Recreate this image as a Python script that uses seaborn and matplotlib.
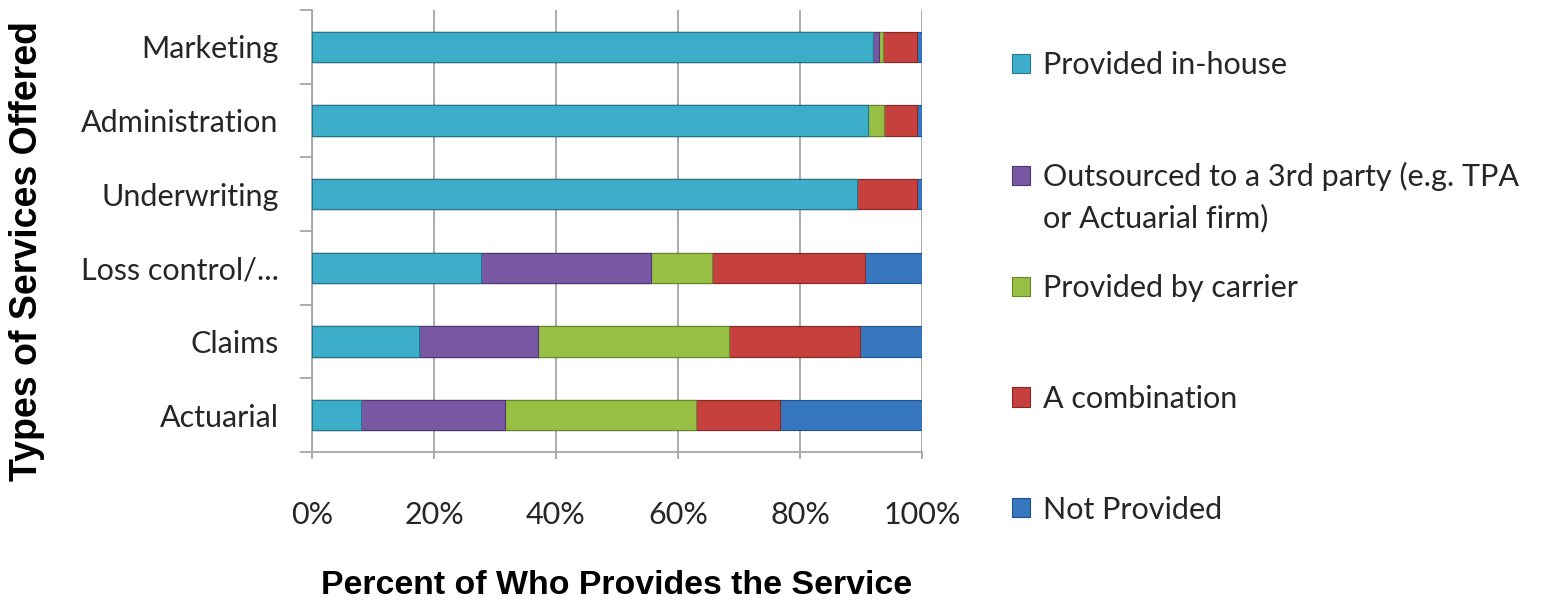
import matplotlib
matplotlib.use("Agg")
import matplotlib.pyplot as plt
import seaborn as sns
import numpy as np
import pandas as pd
from matplotlib.patches import Patch
from matplotlib.ticker import FixedLocator, FuncFormatter

categories = ["Marketing", "Administration", "Underwriting", "Loss control/...", "Claims", "Actuarial"]
series_names = ["Provided in-house", "Outsourced to a 3rd party (e.g. TPA", "Provided by carrier",
                "A combination", "Not Provided"]
in_house = [92.0, 91.2, 89.4, 27.7, 17.5, 8.0]
outsourced = [0.9, 0.0, 0.0, 27.9, 19.6, 23.7]
carrier = [0.7, 2.6, 0.0, 9.9, 31.3, 31.3]
combination = [5.5, 5.3, 9.7, 25.2, 21.4, 13.7]
not_provided = [0.9, 0.9, 0.9, 9.3, 10.2, 23.3]
x_ticks = [0, 20, 40, 60, 80, 100]

colors = ["#3DAECA", "#7858A3", "#96BF44", "#C6403D", "#3777C0"]
edge_colors = ["#23788F", "#4F3574", "#68882A", "#8A2826", "#22528A"]

sns.set_theme(style="white")
plt.rcParams["font.family"] = ["Lato", "DejaVu Sans"]

fig = plt.figure(figsize=(15.43, 6.0), dpi=100)
ax = fig.add_axes([312 / 1543, 1 - 452 / 600, 610 / 1543, 442 / 600])

values = [in_house, outsourced, carrier, combination, not_provided]
cum = np.cumsum(np.array(values), axis=0)
df = pd.DataFrame({"category": categories})
for i in range(len(values) - 1, -1, -1):
    df["v"] = cum[i]
    sns.barplot(data=df, x="v", y="category", order=categories, orient="h", ax=ax,
                color=colors[i], width=0.41, edgecolor=edge_colors[i], linewidth=0.8,
                saturation=1, zorder=3)

ax.set_xlim(0, 100)
ax.set_ylim(5.5, -0.5)
ax.xaxis.set_major_locator(FixedLocator(x_ticks))
ax.xaxis.set_major_formatter(FuncFormatter(lambda v, p: f"{int(v)}%"))
ax.grid(axis="x", color="#a6a6a6", linewidth=1.3, zorder=0)
ax.grid(axis="y", visible=False)
ax.set_axisbelow(True)

for s in ["top", "right"]:
    ax.spines[s].set_visible(False)
for s in ["left", "bottom"]:
    ax.spines[s].set_visible(True)
    ax.spines[s].set_color("#a6a6a6")
    ax.spines[s].set_linewidth(1.3)

ax.yaxis.set_minor_locator(FixedLocator(np.arange(-0.5, 6.0, 1.0)))
ax.tick_params(axis="y", which="major", length=0, pad=24, labelsize=22, labelcolor="#262626")
ax.tick_params(axis="y", which="minor", length=8.5, width=1.3, color="#a6a6a6", left=True)
ax.tick_params(axis="x", which="major", length=5, width=1.3, color="#a6a6a6", bottom=True,
               pad=30, labelsize=22, labelcolor="#262626")

ax.set_xlabel("Percent of Who Provides the Service", fontsize=24.4, fontweight="bold",
              family=["Liberation Sans"], color="black")
ax.set_ylabel("Types of Services Offered", fontsize=27, fontweight="bold",
              family=["Liberation Sans"], color="black")
ax.xaxis.set_label_coords(0.5, -(570 - 452) / 442)
ax.yaxis.set_label_coords((45 - 312) / 610, 1 - (251 - 10) / 442)

handles = [Patch(facecolor=colors[i], edgecolor=edge_colors[i], linewidth=0.8) for i in range(5)]
leg = fig.legend(handles, series_names, loc="upper left",
                 bbox_to_anchor=(997 / 1543, 1 - 36 / 600), frameon=False,
                 fontsize=22, labelspacing=2.71, handlelength=0.59, handleheight=0.59,
                 handletextpad=0.42, borderpad=0, labelcolor="#262626")
fig.text(1043 / 1543, 1 - 218 / 600, "or Actuarial firm)", fontsize=22, color="#262626",
         va="center", ha="left")

fig.savefig("out.png", dpi=100)
